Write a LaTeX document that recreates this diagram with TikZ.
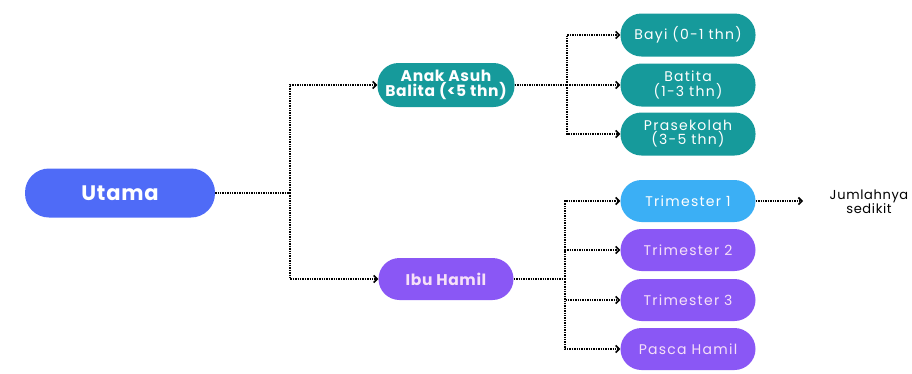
\documentclass[tikz,border=0pt]{standalone}
\usepackage{fontspec}
\setmainfont{Poppins}
\newfontfamily\widefont[LetterSpace=9]{Poppins}
\newfontfamily\boldwide[LetterSpace=4]{Poppins}
\newfontfamily\jumfont[LetterSpace=5]{Poppins}
\usetikzlibrary{arrows.meta}
\definecolor{cBlue}{HTML}{4F6BF7}
\definecolor{cTeal}{HTML}{169A9B}
\definecolor{cPurple}{HTML}{8A57F5}
\definecolor{cSky}{HTML}{3BAFF5}
\definecolor{cPink}{HTML}{F6E0F8}
\tikzset{
  pill/.style={rounded corners=21pt, minimum height=43pt, minimum width=135pt, inner sep=2pt, align=center, font=\widefont\fontsize{14}{13}\selectfont},
  bfont/.style={font=\boldwide\fontsize{15.5}{14}\selectfont\bfseries},
  teal/.style={pill, fill=cTeal, text=white},
  purp/.style={pill, fill=cPurple, text=cPink},
  dl/.style={black, line width=2pt, dash pattern=on 1.4pt off 1pt},
  arr/.style={dl, -{Straight Barb[length=3.5pt,width=7pt,line width=1.6pt]}},
}
\begin{document}
\begin{tikzpicture}[x=1pt,y=-1pt]
\useasboundingbox (0,0) rectangle (912,373);
\node[pill, fill=cBlue, text=white, minimum width=190pt, minimum height=49pt, rounded corners=24pt, font=\boldwide\fontsize{21}{22}\selectfont\bfseries] (utama) at (120,193) {Utama};
\node[teal, minimum width=137pt, minimum height=44pt, bfont] (anak) at (446,85) {Anak Asuh\\Balita (<5 thn)};
\node[purp, minimum height=42pt, bfont] (ibu) at (446,279) {Ibu Hamil};
\node[teal] (bayi) at (688,35) {Bayi (0-1 thn)};
\node[teal] (batita) at (688,85) {Batita\\(1-3 thn)};
\node[teal] (pras) at (688,134) {Prasekolah\\(3-5 thn)};
\node[pill, fill=cSky, text=white, minimum height=42pt] (t1) at (688,201) {Trimester 1};
\node[purp, minimum height=42pt] (t2) at (688,250) {Trimester 2};
\node[purp, minimum height=42pt] (t3) at (688,300) {Trimester 3};
\node[purp, minimum height=42pt] (pasca) at (688,349) {Pasca Hamil};
\node[align=center, font=\jumfont\fontsize{13}{11.5}\selectfont, inner sep=0pt] (jum) at (869,202) {Jumlahnya\\sedikit};
\coordinate (j1) at (290,193);
\coordinate (j2) at (567,85);
\coordinate (j3) at (565,279);
\coordinate (jend) at (803,201);
\draw[dl] (utama.east) -- (j1);
\draw[arr] (j1) |- (anak.west);
\draw[arr] (j1) |- (ibu.west);
\draw[dl] (anak.east) -- (j2);
\draw[arr] (j2) |- (bayi.west);
\draw[arr] (j2) -- (batita.west);
\draw[arr] (j2) |- (pras.west);
\draw[dl] (ibu.east) -- (j3);
\draw[arr] (j3) |- (t1.west);
\draw[arr] (j3) |- (t2.west);
\draw[arr] (j3) |- (t3.west);
\draw[arr] (j3) |- (pasca.west);
\draw[arr] (t1.east) -- (jend);
\end{tikzpicture}
\end{document}
